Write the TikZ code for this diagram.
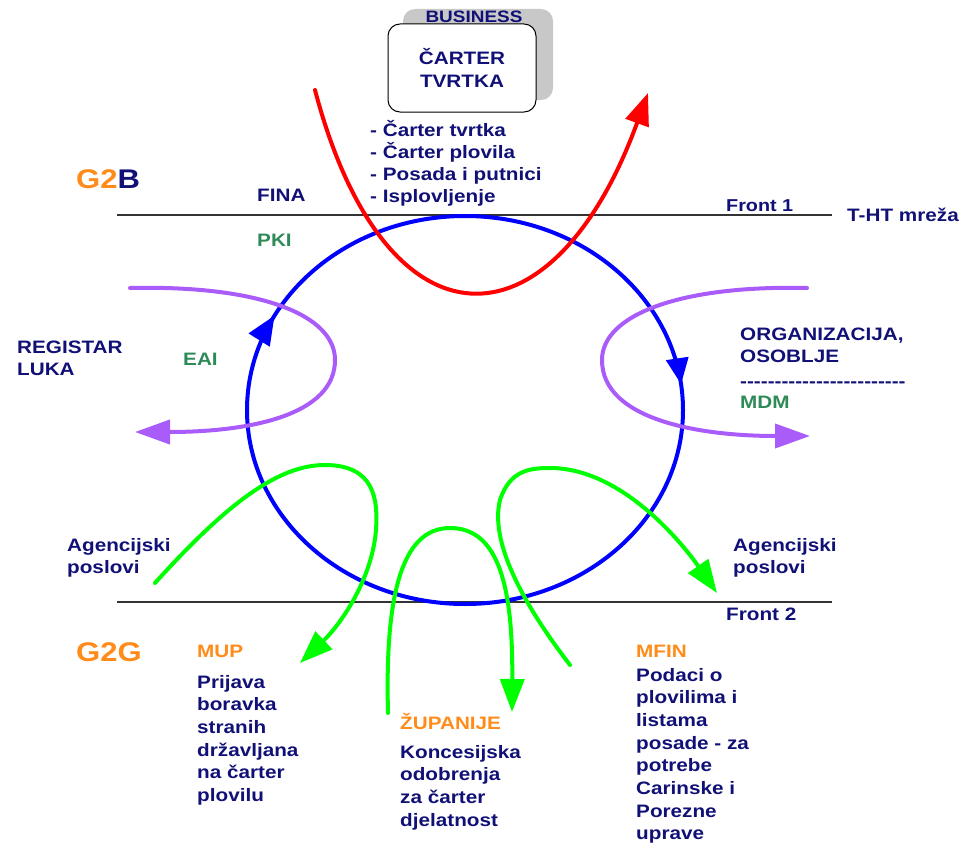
\documentclass[tikz,border=0pt]{standalone}
\usepackage{fontspec}
\setmainfont{Liberation Sans}[FakeStretch=1.15]
\usetikzlibrary{arrows.meta}
\usetikzlibrary{decorations, decorations.markings}
\definecolor{navytxt}{RGB}{16,16,118}
\definecolor{orangetxt}{RGB}{255,140,26}
\definecolor{greentxt}{RGB}{46,139,87}
\definecolor{loopblue}{RGB}{0,0,255}
\definecolor{flowred}{RGB}{255,0,0}
\definecolor{flowpurple}{RGB}{170,92,250}
\definecolor{flowgreen}{RGB}{0,255,0}
\definecolor{shadowgray}{RGB}{200,200,200}
\newcommand{\bigtxt}{\bfseries\fontsize{18}{22.7}\selectfont}

\begin{document}
\begin{tikzpicture}[x=1pt, y=-1pt,
  lbl/.style={font=\bigtxt, text=navytxt, inner sep=0pt, anchor=base west, align=left},
  head/.style={lbl, text=orangetxt},
  tech/.style={lbl, text=greentxt},
  group/.style={lbl, font=\bfseries\fontsize{27}{30}\selectfont},
  frontline/.style={color=black!80, line width=1.2pt},
  flow/.style={line width=4pt, line cap=round},
  redflow/.style={flow, color=flowred, -{Triangle[length=32pt,width=24pt]}},
  purpflow/.style={flow, color=flowpurple, -{Triangle[length=35pt,width=24pt]}},
  greenflow/.style={flow, color=flowgreen, -{Triangle[length=33pt,width=24pt]}}]
  \useasboundingbox (0,0) rectangle (964,843);

  % business box at the top
  \node[fill=shadowgray, rounded corners=12pt, minimum width=150pt, minimum height=91pt] (shadow) at (478,54.5) {};
  \node[lbl, anchor=base, font=\bfseries\fontsize{16.5}{18}\selectfont] (business) at (474,23) {BUSINESS};
  \node[draw, fill=white, rounded corners=12pt, minimum width=148pt, minimum height=88pt, line width=1pt,
        font=\bigtxt, text=navytxt, align=center] (tvrtka) at (462,68) {ČARTER\\TVRTKA};
  % base of a multi-line node = baseline of its last line
  \node[lbl, font=\bfseries\fontsize{18}{21.7}\selectfont] (items) at (370,202)
    {- Čarter tvrtka\\- Čarter plovila\\- Posada i putnici\\- Isplovljenje};

  % fronts
  \draw[frontline] (117,215)--(832,215);
  \draw[frontline] (117,602)--(832,602);
  \node[group, text=orangetxt] (g2b) at (76,188) {G2\textcolor{navytxt}{B}};
  \node[group, text=orangetxt] (g2g) at (76,661) {G2G};
  \node[lbl] (fina) at (257,201) {FINA};
  \node[tech] (pki) at (257,246) {PKI};
  \node[lbl, font=\bfseries\fontsize{17.2}{20}\selectfont] (front1) at (726,211) {Front 1};
  \node[lbl] (thtnet) at (847,221) {T-HT mreža};
  \node[lbl] (front2) at (726,620) {Front 2};

  % blue cycle
  \draw[color=loopblue, line width=4pt,
        postaction={decorate, decoration={markings,
          mark=at position 0.577 with {\arrow{Triangle[length=29pt,width=24pt]}},
          mark=at position 0.98 with {\arrow{Triangle[length=26pt,width=22pt]}}}}]
    (465,410) ellipse [x radius=218, y radius=194];

  % flows
  \draw[redflow] (315,90) .. controls (385,356) and (552,356) .. (648,93);
  \draw[purpflow] (130,288) .. controls (260,285) and (335,315) .. (335,360)
    .. controls (335,415) and (250,432) .. (135,432);
  \draw[purpflow] (807,288) .. controls (680,285) and (602,315) .. (602,360)
    .. controls (602,420) and (700,436) .. (810,436);
  \draw[greenflow] (155,583) .. controls (230,500) and (280,465) .. (325,465)
    .. controls (375,465) and (378,500) .. (376,530)
    .. controls (372,580) and (340,625) .. (300,663);
  \draw[greenflow] (388,713) .. controls (385,600) and (400,528) .. (450,528)
    .. controls (500,528) and (513,590) .. (512,712);
  \draw[greenflow] (570,665) .. controls (520,600) and (490,540) .. (500,500)
    .. controls (510,470) and (530,468) .. (550,468)
    .. controls (620,468) and (680,540) .. (717,593);

  % side labels
  \node[lbl] (registar) at (17,375.7) {REGISTAR\\LUKA};
  \node[tech] (eai) at (183,365) {EAI};
  \node[lbl] (organiz) at (740,362.7) {ORGANIZACIJA,\\OSOBLJE};
  \node[lbl, font=\bfseries\fontsize{18}{22}\selectfont] (sep) at (740,387)
    {-{}-{}-{}-{}-{}-{}-{}-{}-{}-{}-{}-{}-{}-{}-{}-{}-{}-{}-{}-{}-{}-{}-{}-};
  \node[tech] (mdm) at (740,408) {MDM};
  \node[lbl] (agleft) at (67,573.7) {Agencijski\\poslovi};
  \node[lbl] (agright) at (733,573.7) {Agencijski\\poslovi};

  % G2G bodies
  \node[head] (mup) at (197,657) {MUP};
  \node[lbl] (mupbody) at (197,801.5) {Prijava\\boravka\\stranih\\državljana\\na čarter\\plovilu};
  \node[head] (zup) at (400,729) {ŽUPANIJE};
  \node[lbl] (zupbody) at (400,826.1) {Koncesijska\\odobrenja\\za čarter\\djelatnost};
  \node[head] (mfin) at (636,657) {MFIN};
  \node[lbl] (mfinbody) at (636,839.9) {Podaci o\\plovilima i\\listama\\posade - za\\potrebe\\Carinske i\\Porezne\\uprave};
\end{tikzpicture}
\end{document}
